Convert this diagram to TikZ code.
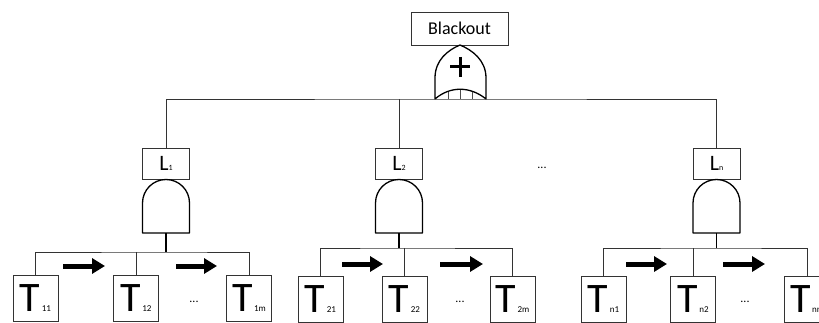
\documentclass[tikz,border=0pt]{standalone}
\usepackage{fontspec}
\setmainfont{Carlito}
\usetikzlibrary{arrows.meta}
\tikzset{
  thin line/.style={draw=black!80, line width=0.8pt},
  tbox/.style={draw=black!80, line width=0.8pt, minimum width=45pt, minimum height=46pt, inner sep=0pt, font=\fontsize{42}{42}\selectfont},
  lbox/.style={draw=black!80, line width=0.8pt, minimum width=47pt, minimum height=31pt, inner sep=0pt, font=\fontsize{22}{22}\selectfont},
  topbox/.style={draw=black!80, line width=0.8pt, minimum width=97pt, minimum height=33pt, inner sep=0pt, font=\fontsize{18}{18}\selectfont},
  gate/.style={draw=black, line width=1.3pt, fill=white, line join=round},
  stem/.style={draw=black, line width=1.6pt},
  fat arrow/.style={draw=black, line width=5pt, -{Triangle[length=13pt,width=15pt]}},
  dots/.style={font=\fontsize{12}{12}\selectfont, inner sep=0pt}
}
\newcommand{\tsub}[1]{{\fontsize{9}{9}\selectfont\,#1}}
\newcommand{\lsub}[1]{{\fontsize{8}{8}\selectfont#1}}
\begin{document}
\begin{tikzpicture}[x=1pt,y=-1pt]
\useasboundingbox (0,0) rectangle (819,323);
\clip (0,0) rectangle (819,323);
\fill[white] (0,0) rectangle (819,323);

% top event
\node[topbox] (bo) at (459.5,28.5) {Blackout};
% OR gate
\draw[gate] (435,99) -- (435,78) .. controls (435,60) and (448,50) .. (460,45)
  .. controls (472,50) and (486,60) .. (486,78) -- (486,99)
  .. controls (470,86) and (450,86) .. (435,99) -- cycle;
\draw[black!70, line width=0.5pt] (448,92) -- (448,99) (472,92) -- (472,99) (460,90) -- (460,99);
\draw[black, line width=3pt] (450,67) -- (470,67) (460,57) -- (460,77);
\coordinate (orb) at (460,99);

% L boxes
\node[lbox] (L1) at (166,163.5) {L\lsub{1}};
\node[lbox] (L2) at (399,163.5) {L\lsub{2}};
\node[lbox] (Ln) at (716.5,163.5) {L\lsub{n}};
\draw[thin line] (L1.north) |- (orb) -| (Ln.north);
\draw[thin line] (L2.north) -- (L2.north |- orb);
\node[dots] (tdots) at (542,168) {...};

% AND gates
\foreach \c/\n in {166/a1,399/a2,716.5/a3}{
  \draw[gate] (\c-23.5,233) -- (\c-23.5,203) arc[start angle=180,end angle=360,radius=23.5] -- (\c+23.5,233) -- cycle;
  \coordinate (\n) at (\c,233);
}

% group 1
\node[tbox] (t11) at (35.5,298.5) {T\tsub{11}};
\node[tbox] (t12) at (136,298.5) {T\tsub{12}};
\node[tbox] (t1m) at (249,298.5) {T\tsub{1m}};
\coordinate (b1) at (166,252);
\draw[stem] (a1) -- (b1);
\draw[thin line] (t11.north) |- (b1) -| (t1m.north);
\draw[thin line] (t12.north) -- (t12.north |- b1);
\coordinate (r1a) at (63,266); \coordinate (r1b) at (105,266);
\coordinate (r1c) at (176,266); \coordinate (r1d) at (217,266);
\draw[fat arrow] (r1a) -- (r1b);
\draw[fat arrow] (r1c) -- (r1d);
\node[dots] (d1) at (194,302) {...};

% group 2
\node[tbox] (t21) at (320.5,299) {T\tsub{21}};
\node[tbox] (t22) at (404.5,299) {T\tsub{22}};
\node[tbox] (t2m) at (512.5,299) {T\tsub{2m}};
\coordinate (b2) at (399,248);
\draw[stem] (a2) -- (b2);
\draw[thin line] (t21.north) |- (b2) -| (t2m.north);
\draw[thin line] (t22.north) -- (t22.north |- b2);
\coordinate (r2a) at (342,264); \coordinate (r2b) at (383,264);
\coordinate (r2c) at (440,264); \coordinate (r2d) at (483,264);
\draw[fat arrow] (r2a) -- (r2b);
\draw[fat arrow] (r2c) -- (r2d);
\node[dots] (d2) at (460,302) {...};

% group 3
\node[tbox] (tn1) at (603.5,299) {T\tsub{n1}};
\node[tbox] (tn2) at (693,299) {T\tsub{n2}};
\node[tbox] (tnm) at (807,299) {T\tsub{nm}};
\coordinate (b3) at (716.5,248);
\draw[stem] (a3) -- (b3);
\draw[thin line] (tn1.north) |- (b3) -| (tnm.north);
\draw[thin line] (tn2.north) -- (tn2.north |- b3);
\coordinate (r3a) at (626,264); \coordinate (r3b) at (667,264);
\coordinate (r3c) at (723,264); \coordinate (r3d) at (765,264);
\draw[fat arrow] (r3a) -- (r3b);
\draw[fat arrow] (r3c) -- (r3d);
\node[dots] (d3) at (745,302) {...};
\end{tikzpicture}
\end{document}
